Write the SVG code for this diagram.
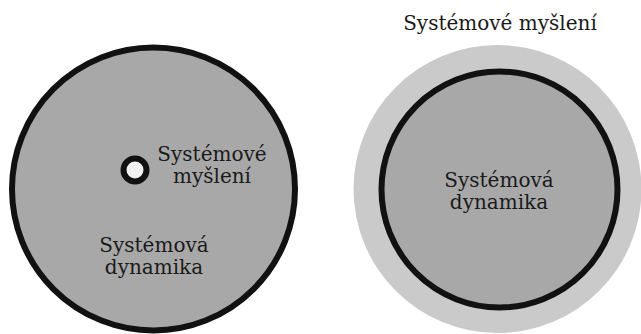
<svg xmlns="http://www.w3.org/2000/svg" width="641" height="334" viewBox="0 0 641 334">
  <style>
    .lbl { font-family: "DejaVu Serif", "Liberation Serif", serif; font-size: 20px; fill: #1a1a1a; text-anchor: middle; }
    .ring { stroke: #111; stroke-width: 6; }
  </style>
  <rect width="641" height="334" fill="#ffffff"/>

  <!-- Left: system dynamics with a small point of systems thinking inside -->
  <g id="left-dynamics">
    <circle class="ring" cx="153.5" cy="189" r="141.5" fill="#a8a8a8"/>
    <text class="lbl" x="154" y="252">Systémová</text>
    <text class="lbl" x="154" y="274">dynamika</text>
  </g>
  <g id="left-thinking">
    <circle class="ring" cx="135" cy="170" r="11.5" fill="#f0f0f0"/>
    <text class="lbl" x="212" y="161">Systémové</text>
    <text class="lbl" x="212" y="183">myšlení</text>
  </g>

  <!-- Right: systems thinking surrounding system dynamics -->
  <g id="right-thinking">
    <circle cx="497.5" cy="189" r="144" fill="#cacaca"/>
    <text class="lbl" x="500" y="30">Systémové myšlení</text>
  </g>
  <g id="right-dynamics">
    <circle class="ring" cx="499.5" cy="189.5" r="118" fill="#a8a8a8"/>
    <text class="lbl" x="499" y="187">Systémová</text>
    <text class="lbl" x="499" y="209">dynamika</text>
  </g>
</svg>
